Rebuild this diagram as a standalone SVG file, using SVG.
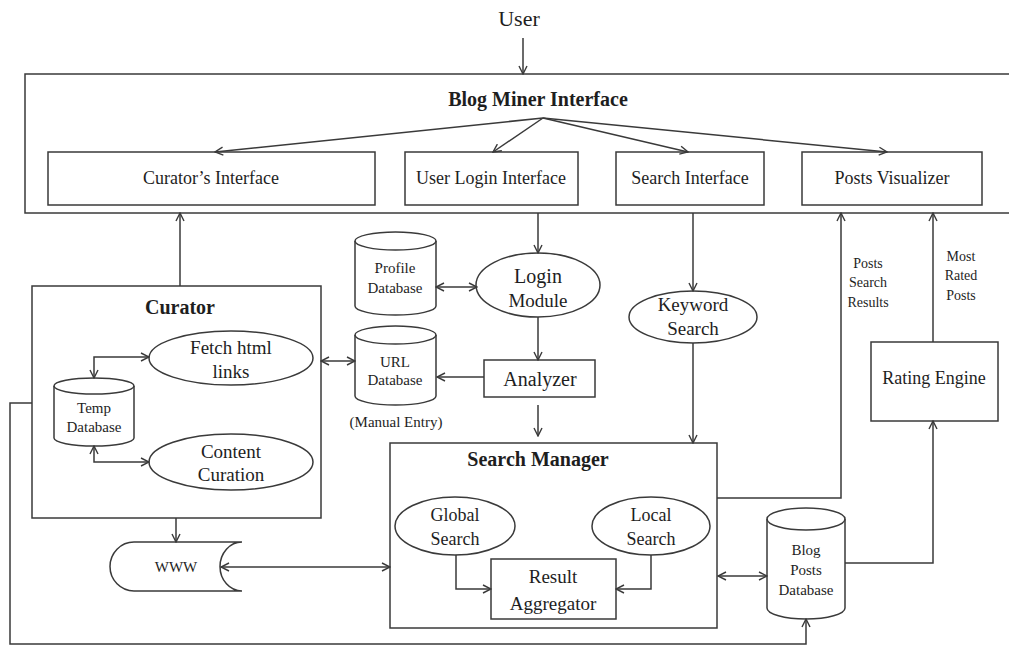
<svg xmlns="http://www.w3.org/2000/svg" width="1009" height="646" viewBox="0 0 1009 646">
<style>
.s{fill:#fff;stroke:#3a3a3a;stroke-width:1.5}
.l{fill:none;stroke:#3a3a3a;stroke-width:1.5}
.a{marker-end:url(#ah)}
.d{marker-start:url(#ah);marker-end:url(#ah)}
text{font-family:"Liberation Serif","Times New Roman",serif;fill:#1e1e1e;text-anchor:middle;dominant-baseline:central}
.b{font-weight:bold;font-size:20px}
.m{font-size:18px}
.g{font-size:18px}
.e{font-size:19px}
.sm{font-size:15px}
.xs{font-size:14px}
</style>
<defs>
<marker id="ah" viewBox="0 0 10 10" refX="9" refY="5" markerWidth="10" markerHeight="10" markerUnits="userSpaceOnUse" orient="auto-start-reverse">
<path d="M1,1 L9,5 L1,9" fill="none" stroke="#3a3a3a" stroke-width="1.4"/>
</marker>
</defs>

<g id="user"><text x="519" y="18" style="font-size:22px">User</text></g>

<g id="blog-miner-interface">
<rect class="s" x="25" y="74" width="1000" height="139"/>
<text class="b" x="538" y="99">Blog Miner Interface</text>
</g>
<g id="curators-interface"><rect class="s" x="48" y="152" width="327" height="53"/><text class="m" x="211" y="178">Curator’s Interface</text></g>
<g id="user-login-interface"><rect class="s" x="405" y="152" width="173" height="53"/><text class="m" x="491" y="178">User Login Interface</text></g>
<g id="search-interface"><rect class="s" x="616" y="152" width="148" height="53"/><text class="m" x="690" y="178">Search Interface</text></g>
<g id="posts-visualizer"><rect class="s" x="802" y="152" width="180" height="53"/><text class="m" x="892" y="178">Posts Visualizer</text></g>

<g id="curator">
<rect class="s" x="32" y="286" width="289" height="232"/>
<text class="b" x="180" y="307">Curator</text>
</g>
<g id="fetch-html-links"><ellipse class="s" cx="231" cy="358" rx="82" ry="27"/><text class="e" x="231" y="347">Fetch html</text><text class="e" x="231" y="371">links</text></g>
<g id="content-curation"><ellipse class="s" cx="231" cy="462" rx="82" ry="28"/><text class="e" x="231" y="451">Content</text><text class="e" x="231" y="474">Curation</text></g>
<g id="temp-database">
<path class="s" d="M54,386 A40,8 0 0 1 134,386 V438 A40,8 0 0 1 54,438 Z"/>
<path class="l" d="M54,386 A40,8 0 0 0 134,386"/>
<text class="sm" x="94" y="408">Temp</text><text class="sm" x="94" y="427">Database</text>
</g>

<g id="profile-database">
<path class="s" d="M355,241 A40.5,9 0 0 1 436,241 V306 A40.5,9 0 0 1 355,306 Z"/>
<path class="l" d="M355,241 A40.5,9 0 0 0 436,241"/>
<text class="sm" x="395" y="268">Profile</text><text class="sm" x="395" y="288">Database</text>
</g>
<g id="url-database">
<path class="s" d="M355,335 A40.5,9 0 0 1 436,335 V396 A40.5,9 0 0 1 355,396 Z"/>
<path class="l" d="M355,335 A40.5,9 0 0 0 436,335"/>
<text class="sm" x="395" y="362">URL</text><text class="sm" x="395" y="380">Database</text>
<text class="sm" x="396" y="422">(Manual Entry)</text>
</g>
<g id="login-module"><ellipse class="s" cx="538" cy="285" rx="62" ry="32"/><text style="font-size:20px" x="538" y="276">Login</text><text class="e" x="538" y="300">Module</text></g>
<g id="analyzer"><rect class="s" x="484" y="360" width="111" height="37"/><text style="font-size:20px" x="540" y="379">Analyzer</text></g>
<g id="keyword-search"><ellipse class="s" cx="693" cy="317" rx="64" ry="26"/><text class="e" x="693" y="304">Keyword</text><text class="e" x="693" y="328">Search</text></g>

<g id="rating-engine"><rect class="s" x="871" y="342" width="127" height="79"/><text style="font-size:18px" x="934" y="378">Rating Engine</text></g>

<g id="search-manager">
<rect class="s" x="390" y="443" width="327" height="185"/>
<text class="b" x="538" y="459">Search Manager</text>
</g>
<g id="global-search"><ellipse class="s" cx="455" cy="526" rx="60" ry="29"/><text class="g" x="455" y="515">Global</text><text class="g" x="455" y="539">Search</text></g>
<g id="local-search"><ellipse class="s" cx="651" cy="526" rx="59" ry="29"/><text class="g" x="651" y="515">Local</text><text class="g" x="651" y="539">Search</text></g>
<g id="result-aggregator"><rect class="s" x="491" y="559" width="125" height="60"/><text style="font-size:19px" x="553" y="576">Result</text><text style="font-size:19px" x="553" y="603">Aggregator</text></g>

<g id="www">
<path class="s" d="M134,542 H242 A22,24.5 0 0 0 242,591 H134 A24,24.5 0 0 1 134,542 Z"/>
<text class="sm" x="176" y="567">WWW</text>
</g>

<g id="blog-posts-database">
<path class="s" d="M767,519 A39,11 0 0 1 845,519 V608 A39,11 0 0 1 767,608 Z"/>
<path class="l" d="M767,519 A39,11 0 0 0 845,519"/>
<text class="sm" x="806" y="550">Blog</text><text class="sm" x="806" y="570">Posts</text><text class="sm" x="806" y="590">Database</text>
</g>

<g id="labels">
<text class="xs" x="868" y="263">Posts</text><text class="xs" x="868" y="282">Search</text><text class="xs" x="868" y="302">Results</text>
<text class="xs" x="961" y="256">Most</text><text class="xs" x="961" y="275">Rated</text><text class="xs" x="961" y="295">Posts</text>
</g>

<g id="connectors">
<path class="l a" d="M523,38 V74"/>
<path class="l a" d="M543,118 L215,152"/>
<path class="l a" d="M543,118 L493,152"/>
<path class="l a" d="M543,118 L688,152"/>
<path class="l a" d="M543,118 L887,152"/>
<path class="l a" d="M180,286 V213"/>
<path class="l a" d="M538,213 V253"/>
<path class="l a" d="M693,213 V291"/>
<path class="l d" d="M436,287 H477"/>
<path class="l a" d="M538,317 V360"/>
<path class="l a" d="M484,377 H437"/>
<path class="l a" d="M538,405 V436"/>
<path class="l d" d="M321,361 H355"/>
<path class="l d" d="M94,378 V357 H149"/>
<path class="l d" d="M94,446 V462 H149"/>
<path class="l a" d="M176,518 V542"/>
<path class="l d" d="M221,567 H390"/>
<path class="l a" d="M693,343 V443"/>
<path class="l a" d="M456,555 V589 H491"/>
<path class="l a" d="M651,555 V589 H616"/>
<path class="l d" d="M718,576 H767"/>
<path class="l a" d="M717,498 H841 V213"/>
<path class="l a" d="M845,563 H933 V421"/>
<path class="l a" d="M933,342 V213"/>
<path class="l a" d="M32,403 H10 V644 H806 V619"/>
</g>
</svg>
